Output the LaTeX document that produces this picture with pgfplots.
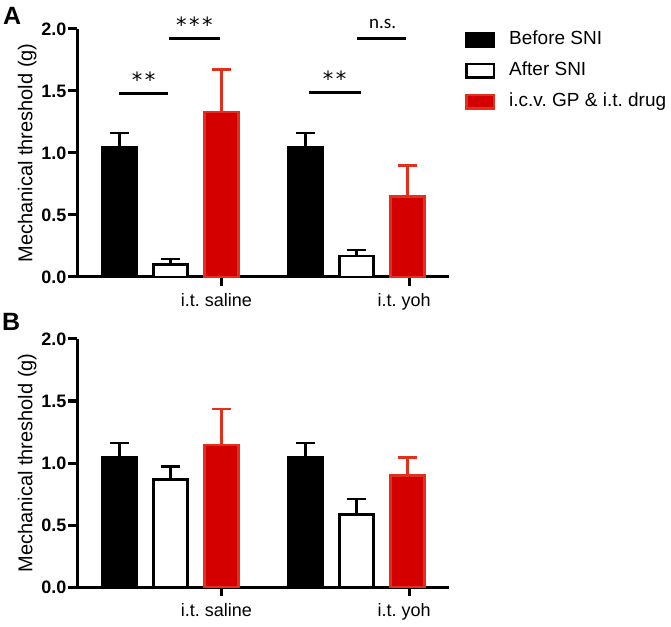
\documentclass[border=0pt]{standalone}
\usepackage{pgfplots}
\pgfplotsset{compat=1.18}
\usepackage{fontspec}
\setmainfont{Liberation Sans}
\newfontfamily\calfont{Carlito}
\newfontfamily\astfont{DejaVu Sans}
\definecolor{myred}{RGB}{212,0,0}
\definecolor{myredline}{RGB}{226,48,28}
\frenchspacing

\tikzset{ast/.style={anchor=north, inner sep=0pt, font=\astfont\fontsize{21}{21}\selectfont}}

\pgfplotsset{
  panel/.style={
    scale only axis, width=372pt, height=248pt,
    xmin=0.167, xmax=7.461, ymin=0, ymax=2,
    axis lines=left,
    axis line style={-, line width=3pt},
    ytick={0,0.5,1,1.5,2},
    yticklabel style={/pgf/number format/.cd, fixed, fixed zerofill, precision=1, assume math mode=true, /tikz/.cd, font=\bfseries\fontsize{18}{18}\selectfont, inner sep=1.5pt},
    xtick={3,6.68},
    xticklabels={i.t. saline, i.t. yoh},
    xticklabel style={font=\fontsize{18}{18}\selectfont, xshift=-5pt, inner sep=0pt, yshift=-7pt},
    tick align=outside,
    major tick length=9pt,
    tick style={line width=3pt, black},
    ylabel={Mechanical threshold (g)},
    ylabel style={font=\fontsize{20}{20}\selectfont, at={(axis description cs:-0.134,0.5)}, anchor=center},
    clip=false,
  },
  mybar/.style={ybar, bar width=34pt, bar shift=0pt, line width=2.8pt},
  myerr/.style={error bars/.cd, y dir=plus, y explicit,
    error bar style={line width=2.5pt, #1},
    error mark options={rotate=90, mark size=9.5pt, line width=2.5pt, #1}},
  sigline/.style={forget plot, sharp plot, line width=3pt, black, mark=none},
}

\begin{document}
\begin{tikzpicture}
\useasboundingbox (0,0) rectangle (671pt,626pt);

% Panel A
\begin{axis}[panel, at={(77pt,349pt)}, anchor=south west,
  legend image code/.code={\draw[#1,/tikz/.cd,line width=2.5pt] (0pt,-6.75pt) rectangle (27.5pt,6.75pt);},
  legend style={at={(1.043,0.993)}, anchor=north west, draw=none, fill=none,
    font=\fontsize{19}{19}\selectfont, inner sep=0pt, row sep=13pt,
    nodes={inner sep=0pt, text height=14pt, text depth=4pt},
    cells={anchor=west},
    /tikz/every odd column/.append style={column sep=14pt}},
]
\addplot[mybar, fill=black, draw=black, myerr=black]
  coordinates {(1,1.045) +- (0,0.115) (4.65,1.045) +- (0,0.115)};
\addlegendentry{Before SNI}
\addplot[mybar, fill=white, draw=black, myerr=black]
  coordinates {(2,0.10) +- (0,0.045) (5.65,0.17) +- (0,0.048)};
\addlegendentry{After SNI}
\addplot[mybar, fill=myred, draw=myredline, myerr=myredline]
  coordinates {(3,1.33) +- (0,0.345) (6.65,0.65) +- (0,0.25)};
\addlegendentry{i.c.v. GP \& i.t. drug}

\addplot[sigline] coordinates {(1,1.476) (1.95,1.476)};
\addplot[sigline] coordinates {(1.97,1.927) (2.97,1.927)};
\addplot[sigline] coordinates {(4.72,1.484) (5.73,1.484)};
\addplot[sigline] coordinates {(5.66,1.927) (6.62,1.927)};
\node[ast] at (axis cs:1.475,1.653) {*\kern2.5pt*};
\node[ast] at (axis cs:2.47,2.097) {*\kern2.5pt*\kern2.5pt*};
\node[ast] at (axis cs:5.22,1.66) {*\kern2.5pt*};
\node[anchor=base, inner sep=0pt, font=\calfont\fontsize{19}{19}\selectfont] at (axis cs:6.16,2.008) {n.s.};
\end{axis}

% Panel B
\begin{axis}[panel, at={(77pt,39pt)}, anchor=south west]
\addplot[mybar, fill=black, draw=black, myerr=black]
  coordinates {(1,1.045) +- (0,0.115) (4.65,1.045) +- (0,0.115)};
\addplot[mybar, fill=white, draw=black, myerr=black]
  coordinates {(2,0.87) +- (0,0.10) (5.65,0.585) +- (0,0.125)};
\addplot[mybar, fill=myred, draw=myredline, myerr=myredline]
  coordinates {(3,1.145) +- (0,0.29) (6.65,0.90) +- (0,0.145)};
\end{axis}

\node[anchor=north west, inner sep=0pt, font=\bfseries\fontsize{25}{25}\selectfont] at (3pt,619pt) {A};
\node[anchor=north west, inner sep=0pt, font=\bfseries\fontsize{25}{25}\selectfont] at (2pt,313pt) {B};
\end{tikzpicture}
\end{document}
